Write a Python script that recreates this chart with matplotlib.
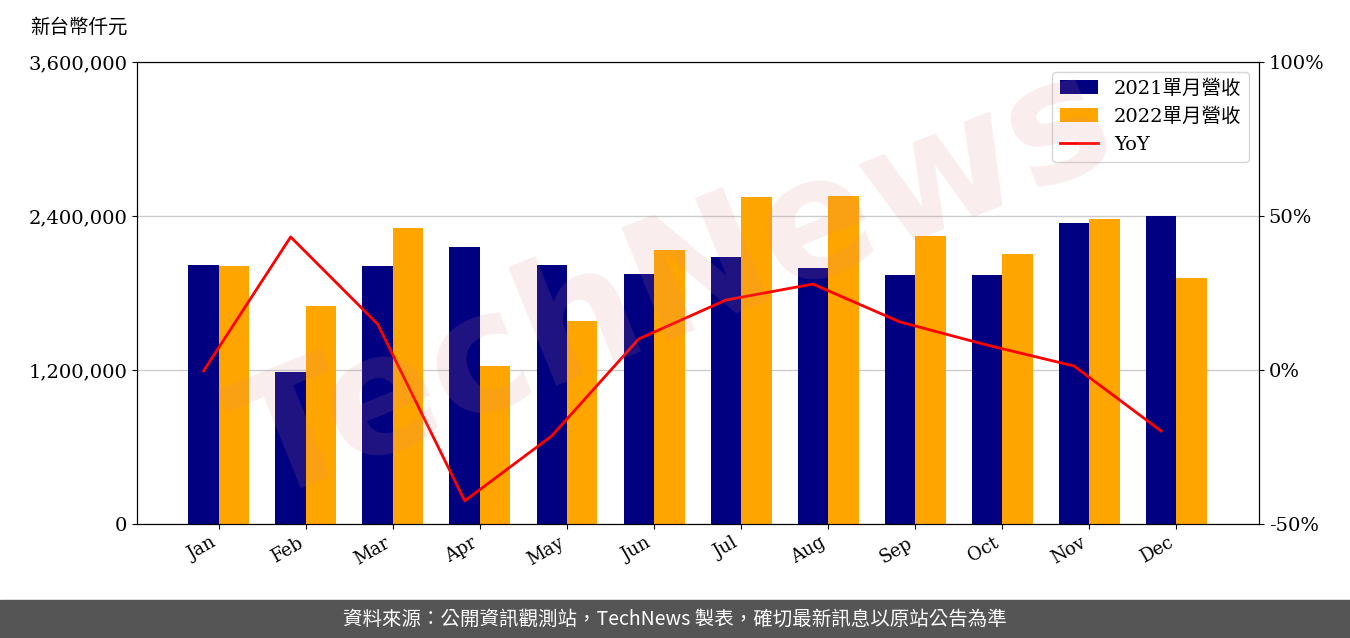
import matplotlib
matplotlib.use('Agg')
import matplotlib.pyplot as plt
import numpy as np

plt.rcParams['font.family'] = ['DejaVu Serif', 'Noto Sans CJK TC']

months = ['Jan', 'Feb', 'Mar', 'Apr', 'May', 'Jun', 'Jul', 'Aug', 'Sep', 'Oct', 'Nov', 'Dec']
rev_2021 = [2018000, 1184000, 2010000, 2158000, 2018000, 1948000, 2080000, 1995000, 1940000, 1940000, 2345000, 2400000]
rev_2022 = [2010000, 1699000, 2306000, 1231000, 1582000, 2135000, 2548000, 2556000, 2244000, 2104000, 2376000, 1917000]
yoy = [-0.3, 43.2, 14.9, -42.5, -21.4, 10.1, 22.7, 27.9, 15.6, 8.1, 1.3, -19.8]

fig = plt.figure(figsize=(13.5, 6.38), dpi=100)
ax = fig.add_axes([137/1350, 114/638, 1122/1350, 462/638])
x = np.arange(len(months))
w = 0.35
b1 = ax.bar(x - w/2, rev_2021, w, color='#000080', label='2021單月營收')
b2 = ax.bar(x + w/2, rev_2022, w, color='#FFA500', label='2022單月營收')
ax.set_ylim(0, 3600000)
ax.set_yticks([0, 1200000, 2400000, 3600000])
ax.set_yticklabels(['0', '1,200,000', '2,400,000', '3,600,000'], fontsize=14)
ax.set_xticks(x)
ax.set_xticklabels(months, rotation=30, ha='right', fontsize=13)
ax.set_xlim(-0.94, 11.95)
ax.grid(axis='y', color='#cccccc', lw=1)
ax.set_axisbelow(True)

ax2 = ax.twinx()
l, = ax2.plot(x - w/2, yoy, color='red', lw=2, label='YoY')
ax2.set_ylim(-50, 100)
ax2.set_yticks([-50, 0, 50, 100])
ax2.set_yticklabels(['-50%', '0%', '50%', '100%'], fontsize=14)

ax2.legend([b1, b2, l], ['2021單月營收', '2022單月營收', 'YoY'], loc='upper right',
           prop={'family': ['DejaVu Serif', 'Noto Sans CJK TC'], 'size': 14})

fig.text(0.5, 0.55, 'TechNews', fontsize=120, fontweight='bold', rotation=22,
         color='#d88888', alpha=0.15, ha='center', va='center', family='DejaVu Sans')
fig.text(30/1350, 1 - 27/638, '新台幣仟元', fontsize=14, family='Noto Sans CJK TC', va='center')

fig.patches.append(plt.Rectangle((0, 0), 1, 38/638, transform=fig.transFigure,
                                 color='#555555', zorder=0))
fig.text(0.5, 19/638, '資料來源：公開資訊觀測站，TechNews 製表，確切最新訊息以原站公告為準',
         color='white', fontsize=14, ha='center', va='center', family='Noto Sans CJK TC')

fig.savefig('out.png')
